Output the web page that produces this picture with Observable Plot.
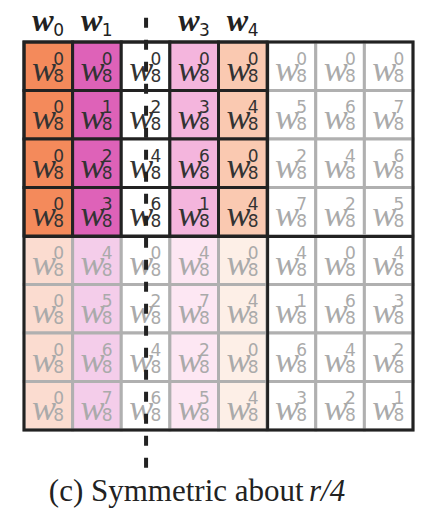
<!DOCTYPE html>
<html><head><meta charset="utf-8">
<style>body{margin:0;background:#fff}</style>
</head><body>
<div id="chart"></div>
<script src="https://cdn.jsdelivr.net/npm/d3@7"></script>
<script src="https://cdn.jsdelivr.net/npm/@observablehq/plot@0.6"></script>
<script>
// exponent k of w_8^k for each row (r) and column (c)
const exponents = [
  [0,0,0,0,0,0,0,0],
  [0,1,2,3,4,5,6,7],
  [0,2,4,6,0,2,4,6],
  [0,3,6,1,4,7,2,5],
  [0,4,0,4,0,4,0,4],
  [0,5,2,7,4,1,6,3],
  [0,6,4,2,0,6,4,2],
  [0,7,6,5,4,3,2,1]
]
const topColors = ["#f48a5b","#de62b8","#ffffff","#f4b5dd","#fac9b1","#ffffff","#ffffff","#ffffff"]
const lowColors = ["#fbdcd0","#f4cdea","#ffffff","#fde7f3","#fdefe7","#ffffff","#ffffff","#ffffff"]
const headers = [{c:0,n:"0"},{c:1,n:"1"},{c:3,n:"3"},{c:4,n:"4"}]

const cells = []
exponents.forEach((row, r) => row.forEach((k, c) => {
  const active = r < 4 && c < 5
  cells.push({r, c, k, active, fill: r < 4 ? topColors[c] : lowColors[c]})
}))

const mathFont = "Liberation Serif"
const ink = d => d.active ? "#333" : "#aaa"
const chart = Plot.plot({
  width: 433, height: 529,
  marginLeft: 24, marginRight: 20, marginTop: 42, marginBottom: 99,
  x: {domain: [0, 8], axis: null},
  y: {domain: [0, 8], reverse: true, axis: null},
  marks: [
    Plot.rect(cells.filter(d => !d.active), {x1: "c", x2: d => d.c + 1, y1: "r", y2: d => d.r + 1, fill: "fill", stroke: "#b0b0b0", strokeWidth: 3}),
    Plot.rect(cells.filter(d => d.active), {x1: "c", x2: d => d.c + 1, y1: "r", y2: d => d.r + 1, fill: "fill", stroke: "#222", strokeWidth: 3}),
    Plot.text(cells, {x: d => d.c + 0.4, y: d => d.r + 0.55, text: () => "w", fontFamily: mathFont, fontStyle: "italic", fontSize: 36, fill: ink}),
    Plot.text(cells, {x: d => d.c + 0.7, y: d => d.r + 0.35, text: "k", fontFamily: "DejaVu Sans", fontSize: 17, fill: ink}),
    Plot.text(cells, {x: d => d.c + 0.7, y: d => d.r + 0.7, text: () => "8", fontFamily: "DejaVu Sans", fontSize: 17, fill: ink}),
    Plot.ruleX([5], {y1: 0, y2: 8, stroke: "#222", strokeWidth: 3}),
    Plot.ruleY([4], {x1: 0, x2: 8, stroke: "#222", strokeWidth: 3}),
    Plot.rect([0], {x1: 0, x2: 8, y1: 0, y2: 8, fill: "none", stroke: "#222", strokeWidth: 3}),
    Plot.ruleX([2.5], {y1: -0.5, y2: 8.9, stroke: "#222", strokeWidth: 4, strokeDasharray: "10,12"}),
    Plot.text(headers, {x: d => d.c + 0.38, y: -0.45, text: () => "w", fontFamily: mathFont, fontStyle: "italic", fontWeight: "bold", fontSize: 32, fill: "#222"}),
    Plot.text(headers, {x: d => d.c + 0.7, y: -0.25, text: "n", fontFamily: "DejaVu Sans", fontSize: 17, fill: "#222"}),
    Plot.text(["(c) Symmetric about "], {x: 0.5, y: 9.25, text: d => d, textAnchor: "start", fontFamily: mathFont, fontSize: 31, fill: "#222"}),
    Plot.text(["r/4"], {x: 5.85, y: 9.25, text: d => d, textAnchor: "start", fontFamily: mathFont, fontStyle: "italic", fontSize: 31, fill: "#222"})
  ]
})
document.getElementById("chart").append(chart)
</script>
</body></html>
